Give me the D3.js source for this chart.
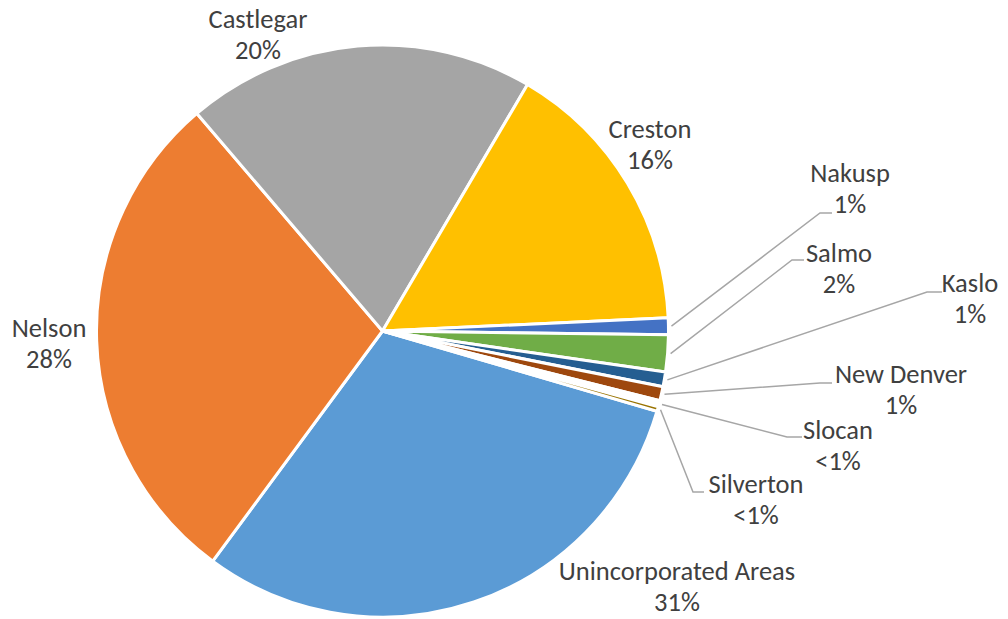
<!DOCTYPE html>
<html>
<head>
<meta charset="utf-8">
<script src="https://cdn.jsdelivr.net/npm/d3@7"></script>
<style>
  body { margin: 0; background: #fff; }
  .label { font-family: Calibri, Carlito, Lato, sans-serif; font-size: 26.5px; fill: #404040; }
</style>
</head>
<body>
<div id="pieChart"></div>
<script>
// share of total, in Excel series order (clockwise from the first slice)
var areas   = ["Unincorporated Areas", "Nelson", "Castlegar", "Creston", "Nakusp", "Salmo", "Kaslo", "New Denver", "Slocan", "Silverton"];
var shares  = [30.58, 28.64, 19.70, 15.80, 0.94, 2.08, 0.83, 0.80, 0.35, 0.26];
var pctText = ["31%", "28%", "20%", "16%", "1%", "2%", "1%", "1%", "<1%", "<1%"];

var colors = ["#5B9BD5", "#ED7D31", "#A5A5A5", "#FFC000", "#4472C4", "#70AD47", "#255E91", "#9E480E", "#FFFFFF", "#997300"];

// label layout (centre x, first baseline y) and leader elbow for the small ones
var labelPos = {
  "Unincorporated Areas": [677, 580],
  "Nelson":     [49, 337],
  "Castlegar":  [258, 28],
  "Creston":    [650, 138],
  "Nakusp":     [850, 182],
  "Salmo":      [839, 262],
  "Kaslo":      [970, 292],
  "New Denver": [901, 383],
  "Slocan":     [838, 439],
  "Silverton":  [756, 493]
};
var leaderElbow = {
  "Nakusp":     [[820, 213], [832, 213]],
  "Salmo":      [[792, 260], [804, 260]],
  "Kaslo":      [[927, 292], [942, 292]],
  "New Denver": [[820, 383], [832, 383]],
  "Slocan":     [[787, 437], [802, 437]],
  "Silverton":  [[693, 492], [704, 492]]
};

var width = 1008, height = 619;
var cx = 382.5, cy = 331, radius = 286;

var svg = d3.select("#pieChart").append("svg")
  .attr("width", width)
  .attr("height", height);

var g = svg.append("g")
  .attr("transform", "translate(" + cx + "," + cy + ")");

var start = 106.3 * Math.PI / 180;
var pie = d3.pie()
  .sort(null)
  .startAngle(start)
  .endAngle(start + 2 * Math.PI)
  .value(function(d, i) { return shares[i]; });

var arc = d3.arc().innerRadius(0).outerRadius(radius);
var edge = d3.arc().innerRadius(radius + 3).outerRadius(radius + 3);

var arcs = pie(areas);

g.selectAll(".slice")
  .data(arcs)
  .enter().append("path")
    .attr("class", "slice")
    .attr("d", arc)
    .attr("fill", function(d, i) { return colors[i]; })
    .attr("stroke", "#fff")
    .attr("stroke-width", 3)
    .attr("stroke-linejoin", "round");

// leader lines from the slice rim to the label
var line = d3.line();
arcs.forEach(function(d) {
  var pts = leaderElbow[d.data];
  if (!pts) return;
  var p0 = edge.centroid(d);
  svg.append("path")
    .attr("d", line([[p0[0] + cx, p0[1] + cy]].concat(pts)))
    .attr("fill", "none")
    .attr("stroke", "#A6A6A6")
    .attr("stroke-width", 1.5);
});

arcs.forEach(function(d, i) {
  var p = labelPos[d.data];
  var t = svg.append("text")
    .attr("class", "label")
    .attr("text-anchor", "middle")
    .attr("x", p[0])
    .attr("y", p[1]);
  t.append("tspan").attr("x", p[0]).text(d.data);
  t.append("tspan").attr("x", p[0]).attr("dy", 31).text(pctText[i]);
});
</script>
</body>
</html>
